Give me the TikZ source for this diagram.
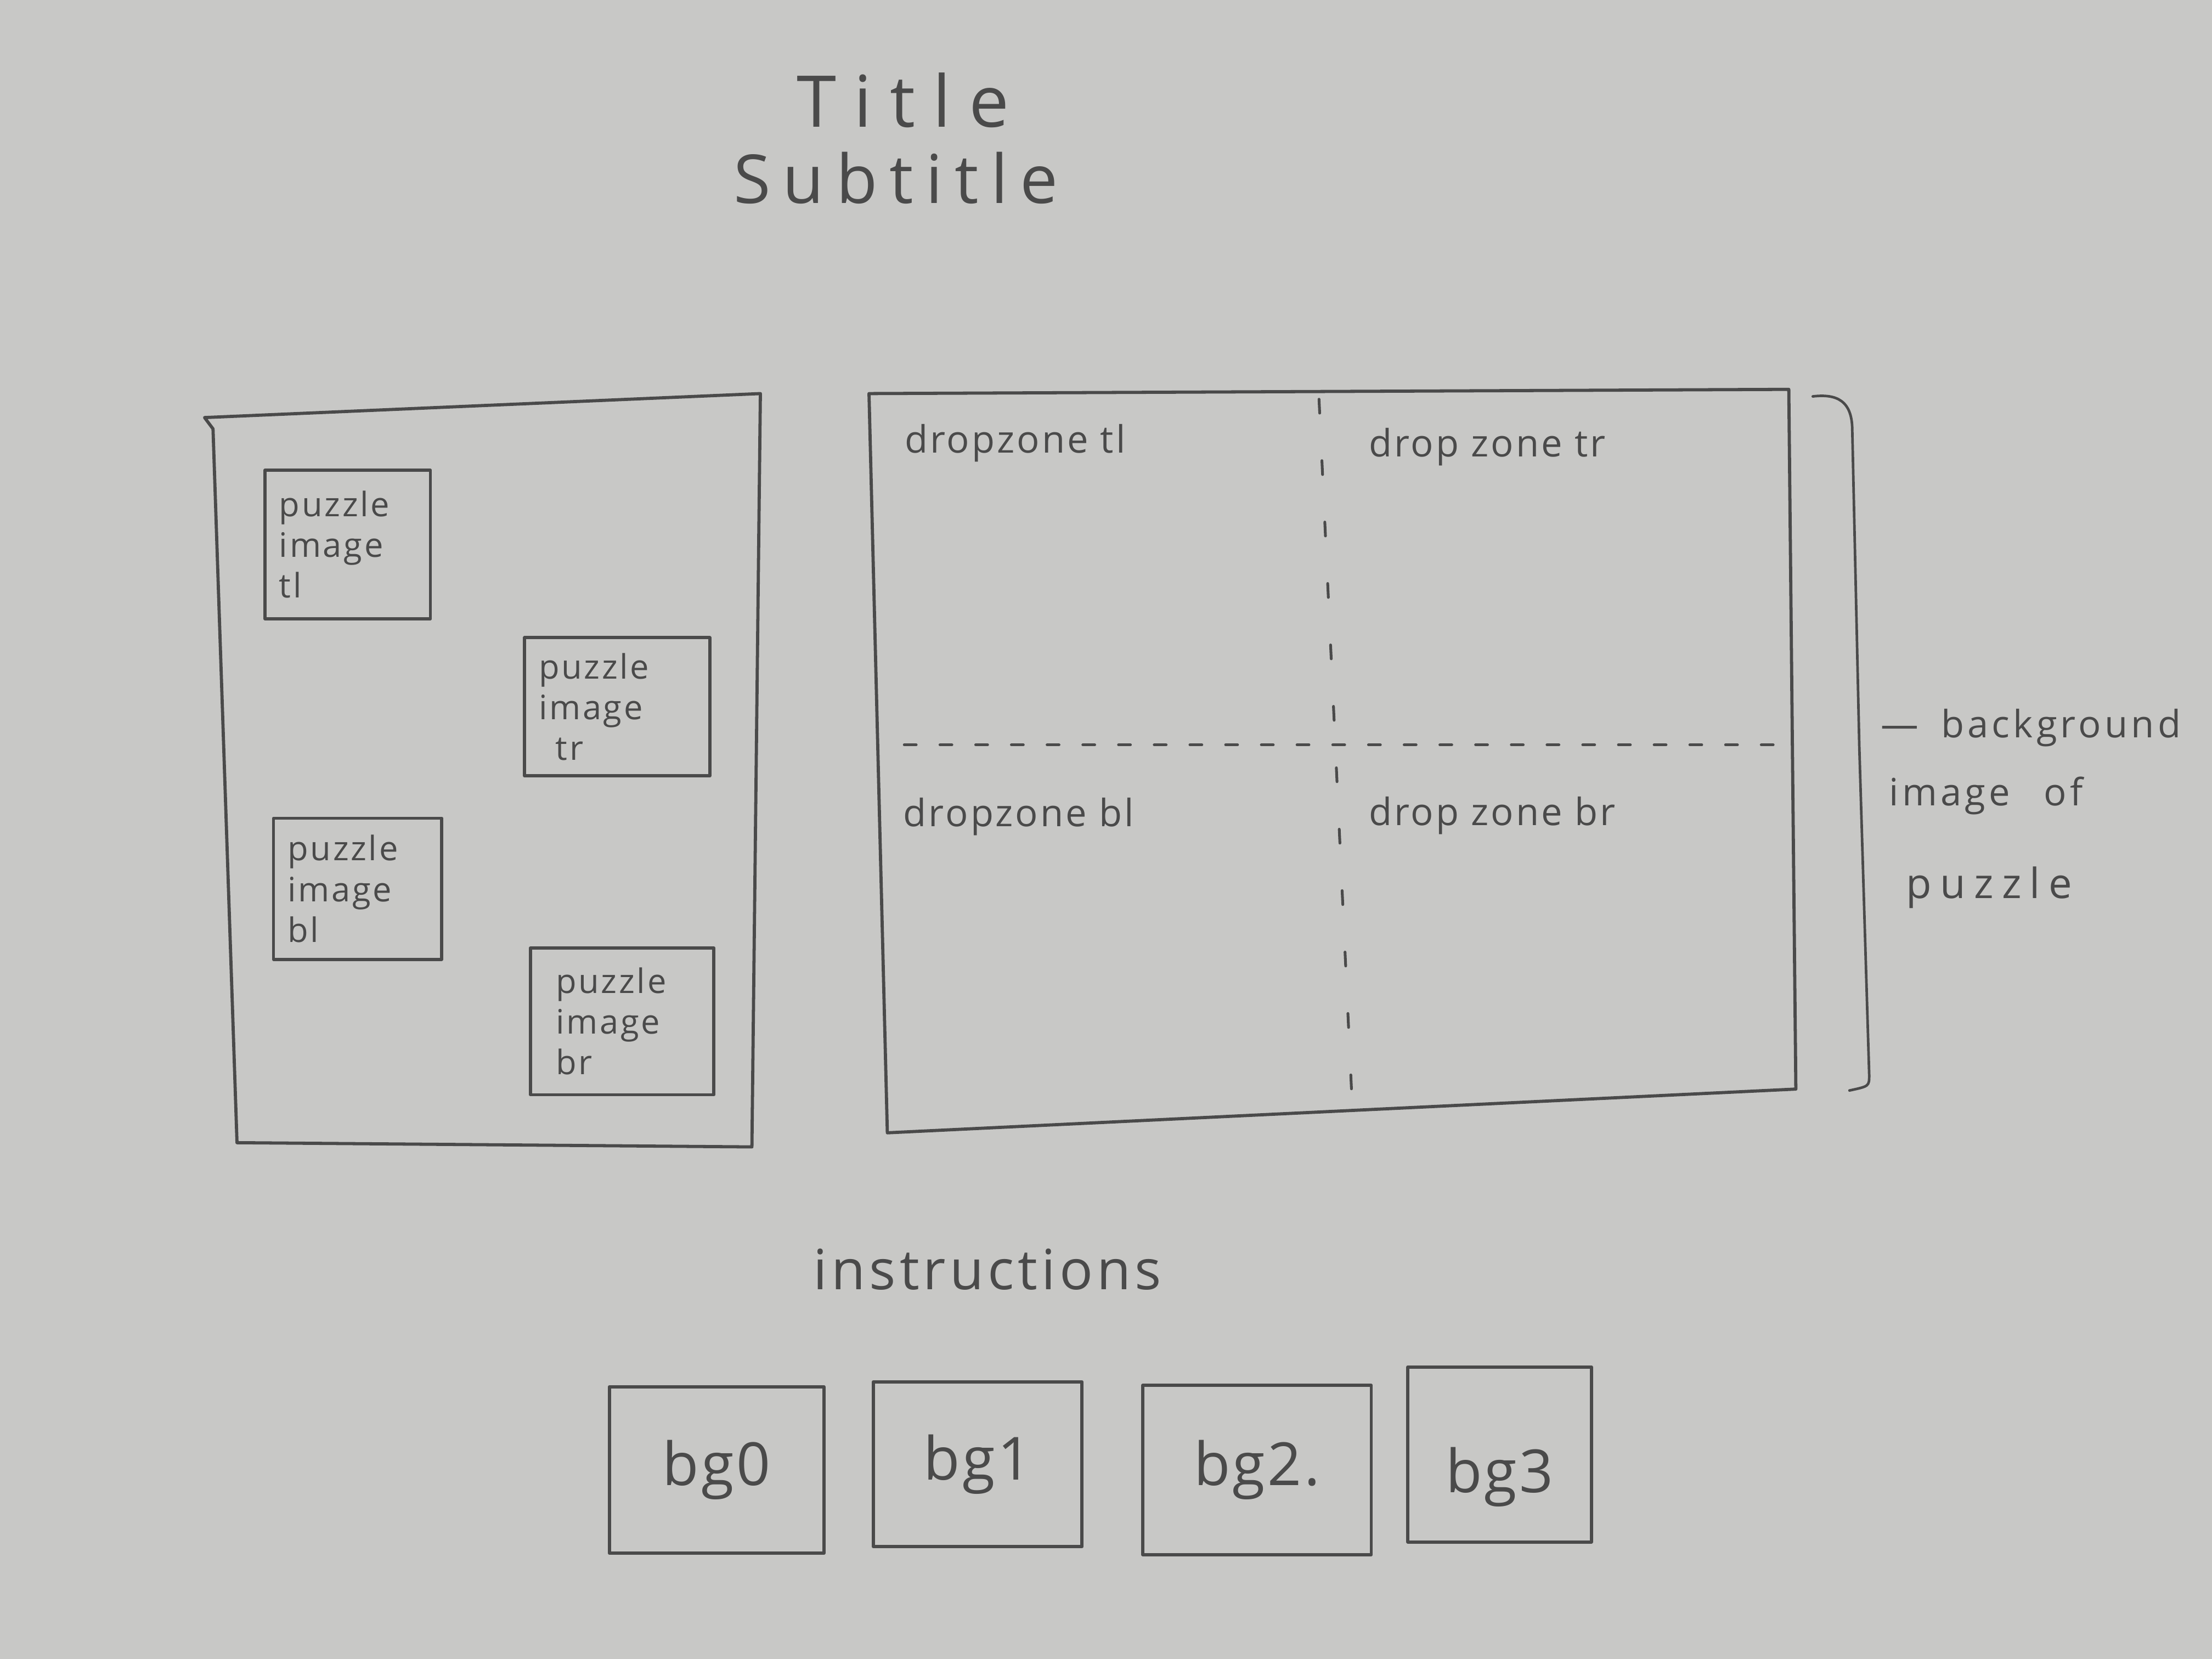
\documentclass[tikz,border=0pt]{standalone}
\usepackage{fontspec}
\setmainfont{Open Sans}
\definecolor{paper}{HTML}{C8C8C6}
\definecolor{pencil}{HTML}{4A4A4A}
\begin{document}
\begin{tikzpicture}[x=0.025cm,y=-0.025cm,
  pencilline/.style={draw=pencil, line width=1.6pt, line join=round, line cap=round},
  divider/.style={draw=pencil, line width=1.4pt, line cap=round},
  hand/.style={text=pencil, inner sep=0pt},
  piece/.style={pencilline, text=pencil, align=left, inner xsep=0.25cm, inner ysep=0pt,
    font=\fontsize{17}{20.5}\selectfont\addfontfeatures{LetterSpace=6}},
  bgbox/.style={pencilline, text=pencil, font=\fontsize{30}{36}\selectfont\addfontfeatures{LetterSpace=4}},
  zonelabel/.style={hand, anchor=west, font=\fontsize{19}{23}\selectfont\addfontfeatures{LetterSpace=6}},
  notelabel/.style={hand, anchor=west, font=\fontsize{19}{23}\selectfont\addfontfeatures{LetterSpace=9}}
]
% sheet of paper
\fill[paper] (0,0) rectangle (1568,1176);
\useasboundingbox (0,0) rectangle (1568,1176);

% heading
\node[hand, font=\fontsize{36}{40}\selectfont\addfontfeatures{LetterSpace=25}] (title) at (640,71) {Title};
\node[hand, font=\fontsize{34}{40}\selectfont\addfontfeatures{LetterSpace=18}] (subtitle) at (635,126) {Subtitle};

% tray holding the loose pieces
\coordinate (tray-nw) at (145,296);
\coordinate (tray-ne) at (539,279);
\coordinate (tray-se) at (533,813);
\coordinate (tray-sw) at (168,810);
\draw[pencilline] (tray-nw) -- (151,304) -- (tray-sw) -- (tray-se) -- (tray-ne) -- cycle;

\node[piece, text width=2.43cm, minimum height=2.63cm] (p-tl) at (246.5,386) {puzzle\\image\\tl};
\node[piece, text width=2.78cm, minimum height=2.45cm] (p-tr) at (437.5,501) {puzzle\\image\\\hspace{0.3cm}tr};
\node[piece, text width=2.48cm, minimum height=2.50cm] (p-bl) at (253.5,630) {puzzle\\image\\bl};
\node[piece, text width=2.75cm, minimum height=2.60cm] (p-br) at (441,724) {\hspace{0.2cm}puzzle\\\hspace{0.2cm}image\\\hspace{0.2cm}br};

% board with four drop zones
\coordinate (board-nw) at (616,279);
\coordinate (board-ne) at (1268,276);
\coordinate (board-se) at (1273,772);
\coordinate (board-sw) at (629,803);
\draw[pencilline] (board-nw) -- (board-ne) -- (board-se) -- (board-sw) -- cycle;

\coordinate (split-top) at (935,283);
\coordinate (split-bot) at (958,772);
\coordinate (split-left) at (641,528);
\coordinate (split-right) at (1257,528);
\draw[divider, dash pattern=on 7pt off 24pt] (split-top) -- (split-bot);
\draw[divider, dash pattern=on 6pt off 12pt] (split-left) -- (split-right);

\node[zonelabel] (dz-tl) at (641,314) {dropzone tl};
\node[zonelabel] (dz-tr) at (970,317) {drop zone tr};
\node[zonelabel] (dz-bl) at (640,579) {dropzone bl};
\node[zonelabel] (dz-br) at (970,578) {drop zone br};

% bracket marking the background image
\coordinate (brace-top) at (1285,281);
\coordinate (brace-bot) at (1311,773);
\draw[draw=pencil, line width=1.3pt, line cap=round] (brace-top)
  .. controls (1302,279) and (1313,284) .. (1313,305)
  -- (1318,530) -- (1325,762) .. controls (1325,770) .. (brace-bot);

\node[notelabel] (note-1) at (1333,516) {—\hspace{0.4cm}background};
\node[notelabel] (note-2) at (1339,564) {image\hspace{0.6cm}of};
\node[notelabel, font=\fontsize{21}{25}\selectfont\addfontfeatures{LetterSpace=20}] (note-3) at (1351,629) {puzzle};

% instructions and background choices
\node[hand, font=\fontsize{28}{34}\selectfont\addfontfeatures{LetterSpace=7}] (instr) at (700,900) {instructions};

\node[bgbox, minimum width=3.80cm, minimum height=2.95cm] (bg0) at (508,1042) {bg0};
\node[bgbox, minimum width=3.70cm, minimum height=2.92cm] (bg1) at (693,1038) {bg1};
\node[bgbox, minimum width=4.05cm, minimum height=3.00cm] (bg2) at (891,1042) {bg2.};
\node[bgbox, minimum width=3.25cm, minimum height=3.10cm, text height=1.6cm, text depth=0.25cm] (bg3) at (1063,1031) {bg3};
\end{tikzpicture}
\end{document}
